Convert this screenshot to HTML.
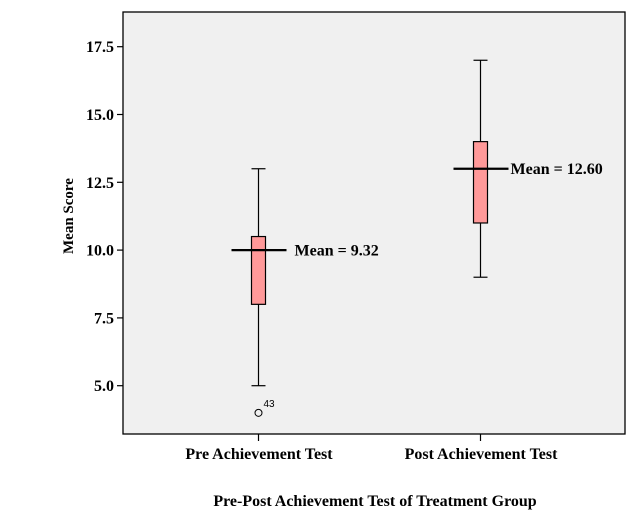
<!DOCTYPE html>
<html><head><meta charset="utf-8"><style>
body{margin:0;background:#fff;}
svg{display:block;font-family:"Liberation Serif",serif;}
</style></head><body>
<svg id="c" width="631" height="526">
<rect x="123" y="12" width="502" height="422" fill="#f0f0f0" stroke="#000" stroke-width="1.3"/>
<g id="g"></g>
<text x="73" y="216" transform="rotate(-90 73 216)" text-anchor="middle" font-size="15" font-weight="bold">Mean Score</text>
<text x="375" y="506" text-anchor="middle" font-size="16" font-weight="bold">Pre-Post Achievement Test of Treatment Group</text>
</svg>
<script>
const categories=["Pre Achievement Test","Post Achievement Test"];
const whiskerLow=[5,9];
const q1=[8,11];
const median=[10,13];
const q3=[10.5,14];
const whiskerHigh=[13,17];
const meanLabels=["Mean = 9.32","Mean = 12.60"];
const outlierValues=[[4],[]];
const outlierLabels=[["43"],[]];
const yTicks=[5,7.5,10,12.5,15,17.5];
const labelOffsets=[36,30];
const NS="http://www.w3.org/2000/svg";
const g=document.getElementById('g');
const y=v=>385.7-(v-5)*27.12;
const x=i=>258.5+i*222;
function el(t,a,txt){const e=document.createElementNS(NS,t);for(const k in a)e.setAttribute(k,a[k]);if(txt!==undefined)e.textContent=txt;g.appendChild(e);return e;}
yTicks.forEach(t=>{
 const l=el('line',{x1:117,x2:123,y1:y(t),y2:y(t),stroke:'#000','stroke-width':1.2});
 
 
 const tx=el('text',{x:114,y:y(t)+5.5,'text-anchor':'end','font-size':16,'font-weight':'bold'},t.toFixed(1));
 
 
});
categories.forEach((c,i)=>{
 const cx=x(i);
 const tk=el('line',{x1:cx,x2:cx,y1:434,y2:441,stroke:'#000','stroke-width':1.2});
 
 
 const lb=el('text',{x:cx+0.5,y:459,'text-anchor':'middle','font-size':16,'font-weight':'bold'},c);
 
 
 const w=el('line',{x1:cx,x2:cx,y1:y(whiskerLow[i]),y2:y(whiskerHigh[i]),stroke:'#000','stroke-width':1.2});
 
 
 [whiskerLow[i],whiskerHigh[i]].forEach(v=>{
  const cap=el('line',{x1:cx-7,x2:cx+7,y1:y(v),y2:y(v),stroke:'#000','stroke-width':1.2});
  
  
 });
 const b=el('rect',{x:cx-7,y:y(q3[i]),width:14,height:y(q1[i])-y(q3[i]),fill:'#ff9999',stroke:'#000','stroke-width':1.2});
 
 
 const m=el('line',{x1:cx-27,x2:cx+28,y1:y(median[i]),y2:y(median[i]),stroke:'#000','stroke-width':2.2});
 
 
 const ml=el('text',{x:cx+labelOffsets[i],y:y(median[i])+5.5,'font-size':16,'font-weight':'bold'},meanLabels[i]);
 
 
 outlierValues[i].forEach((v,j)=>{
  const o=el('circle',{cx:cx,cy:y(v),r:3.5,fill:'none',stroke:'#000','stroke-width':1});
  
  
  const ol=el('text',{x:cx+5,y:y(v)-6,'font-size':10,'font-family':'Liberation Sans, sans-serif'},outlierLabels[i][j]);
  
  
 });
});
</script>
</body></html>
